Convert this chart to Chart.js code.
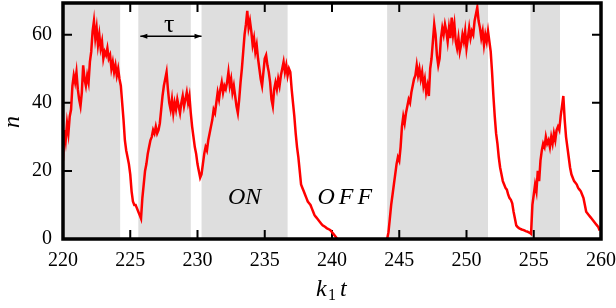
<!DOCTYPE html>
<html>
<head>
<meta charset="utf-8">
<script src="https://cdn.jsdelivr.net/npm/chart.js@4/dist/chart.umd.min.js"></script>
<style>
  html, body { margin: 0; padding: 0; background: #fff; }
  #wrap { width: 616px; height: 308px; position: relative; }
</style>
</head>
<body>
<div id="wrap"><canvas id="chart"></canvas></div>
<script>
const SERIF = "'Liberation Serif', 'DejaVu Serif', serif";
const LINE_COLOR = '#ff0000';
const BAND_COLOR = '#dedede';

// sampling of the trajectory, k1 t from 220 in steps of 0.1
const T0 = 220;
const DT = 0.1;

// copy number n, one array per 5 time units
const n220 = [23, 32, 29, 34, 31, 36, 38, 45, 48, 46, 49, 44, 41, 39, 43, 51, 47, 45, 48, 46,
  52, 55, 61, 64, 59, 62, 57, 60, 56, 58, 53, 55, 54, 56, 53, 54, 50, 52, 49, 51,
  48, 50, 47, 45, 40, 35, 29, 26, 24, 22];
const n225 = [19, 14, 11, 10, 10, 9, 8, 7, 6, 12, 16, 20, 22, 25, 27, 29, 30, 32, 31, 33,
  31, 32, 34, 38, 42, 45, 47, 49, 44, 40, 38, 41, 37, 40, 38, 41, 39, 37, 40, 42,
  39, 41, 43, 40, 42, 37, 33, 30, 27, 25];
const n230 = [22, 20, 18, 19, 22, 25, 27, 26, 29, 31, 33, 35, 38, 37, 40, 43, 41, 44, 46, 43,
  45, 44, 46, 49, 45, 47, 43, 45, 42, 39, 37, 41, 46, 50, 55, 60, 63, 67, 62, 64,
  61, 57, 59, 55, 57, 53, 50, 47, 45, 49];
const n235 = [53, 54, 51, 49, 46, 41, 39, 44, 46, 44, 47, 45, 48, 50, 52, 49, 51, 48, 50, 49,
  44, 40, 36, 31, 27, 24, 20, 16, 15, 14, 13, 12, 11, 10.5, 10, 9, 8, 7, 6.5, 6,
  5.5, 5, 4.5, 4, 3.8, 3.5, 3.2, 3, 2.8, 2.5];
const n240 = [2, 1.5, 1, 0.5, 0,
  null, null, null, null, null, null, null, null, null, null, null, null,
  null, null, null, null, null, null, null, null, null, null, null, null,
  null, null, null, null, null, null, null, null, null, null, null, null,
  0, 2, 6, 10, 13, 16, 19, 22, 24];
const n245 = [23, 27, 33, 36, 34, 37, 39, 41, 40, 43, 45, 47, 48, 51, 48, 50, 47, 49, 45, 47,
  43, 45, 42, 50, 53, 58, 63, 60, 54, 51, 53, 59, 62, 60, 63, 61, 58, 62, 59, 65,
  60, 63, 58, 56, 59, 55, 57, 60, 58, 61];
const n250 = [56, 59, 62, 59, 61, 60, 64, 66, 68, 64, 62, 59, 61, 57, 60, 58, 61, 58, 55, 49,
  42, 36, 31, 28, 24, 21, 19, 17, 16, 15, 14.5, 13, 12, 11.5, 10.5, 8, 6, 4, 3.5, 3.2,
  3, 2.8, 2.7, 2.5, 2.3, 2.2, 2, 1.8, 1.5, 10];
const n255 = [13, 16, 14, 20, 17, 23, 26, 28, 27, 30, 28, 29, 27, 30, 28, 31, 29, 32, 33, 32,
  36, 39, 42, 35, 30, 27, 24, 21, 19, 18, 17, 16.5, 16, 15, 14.5, 14, 13, 12, 10, 8,
  7.5, 7, 6.5, 6, 5.5, 5, 4.5, 4, 3.5, 2.5];

// ON periods (shaded)
const onStart = [220, 225.6, 230.3, 244.1, 254.75];
const onEnd = [224.25, 229.5, 236.7, 251.6, 256.95];

const xTicks = [220, 225, 230, 235, 240, 245, 250, 255, 260];
const yTicks = [0, 20, 40, 60];

const counts = [].concat(n220, n225, n230, n235, n240, n245, n250, n255);
const points = counts.map((v, i) => ({ x: Math.round((T0 + i * DT) * 10) / 10, y: v }));

const decor = {
  id: 'decor',
  beforeDatasetsDraw(chart) {
    const { ctx, chartArea: a, scales: { x, y } } = chart;
    ctx.save();
    ctx.fillStyle = BAND_COLOR;
    onStart.forEach((s, i) => {
      const x0 = x.getPixelForValue(s);
      const x1 = x.getPixelForValue(onEnd[i]);
      ctx.fillRect(x0, a.top, x1 - x0, a.bottom - a.top);
    });
    // inward tick marks on all four sides
    ctx.strokeStyle = '#000';
    ctx.lineWidth = 2;
    ctx.beginPath();
    xTicks.forEach((t) => {
      const px = x.getPixelForValue(t);
      ctx.moveTo(px, a.bottom); ctx.lineTo(px, a.bottom - 9);
      ctx.moveTo(px, a.top); ctx.lineTo(px, a.top + 9);
    });
    yTicks.forEach((t) => {
      const py = y.getPixelForValue(t);
      ctx.moveTo(a.left, py); ctx.lineTo(a.left + 9, py);
      ctx.moveTo(a.right, py); ctx.lineTo(a.right - 9, py);
    });
    ctx.stroke();
    ctx.restore();
  },
  afterDatasetsDraw(chart) {
    const { ctx, chartArea: a, scales: { x, y } } = chart;
    ctx.save();
    ctx.strokeStyle = '#000';
    ctx.lineWidth = 3.5;
    ctx.strokeRect(a.left, a.top, a.right - a.left, a.bottom - a.top);

    // tau arrow
    const ax0 = x.getPixelForValue(225.75);
    const ax1 = x.getPixelForValue(230.3);
    const ay = y.getPixelForValue(59.5);
    ctx.lineWidth = 1.5;
    ctx.beginPath();
    ctx.moveTo(ax0, ay); ctx.lineTo(ax1, ay);
    ctx.stroke();
    ctx.fillStyle = '#000';
    ctx.beginPath();
    ctx.moveTo(ax0, ay); ctx.lineTo(ax0 + 7, ay - 2.5); ctx.lineTo(ax0 + 7, ay + 2.5); ctx.closePath();
    ctx.moveTo(ax1, ay); ctx.lineTo(ax1 - 7, ay - 2.5); ctx.lineTo(ax1 - 7, ay + 2.5); ctx.closePath();
    ctx.fill();

    ctx.textAlign = 'center';
    ctx.textBaseline = 'middle';
    ctx.font = `26px ${SERIF}`;
    ctx.fillText('τ', x.getPixelForValue(227.9), y.getPixelForValue(62.8));

    ctx.font = `italic 24px ${SERIF}`;
    ctx.fillText('ON', x.getPixelForValue(233.5), y.getPixelForValue(12));
    ctx.letterSpacing = '4px';
    ctx.fillText('OFF', x.getPixelForValue(241.1), y.getPixelForValue(12));
    ctx.letterSpacing = '0px';

    // axis titles
    ctx.save();
    ctx.translate(13, 122);
    ctx.rotate(-Math.PI / 2);
    ctx.fillText('n', 0, 0);
    ctx.restore();

    ctx.textAlign = 'left';
    ctx.fillText('k', 316, 290);
    ctx.font = `16px ${SERIF}`;
    ctx.fillText('1', 328, 296);
    ctx.font = `italic 24px ${SERIF}`;
    ctx.fillText('t', 340, 290);
    ctx.restore();
  },
};

new Chart(document.getElementById('chart'), {
  type: 'line',
  data: {
    datasets: [{
      data: points,
      borderColor: LINE_COLOR,
      borderWidth: 2.5,
      pointRadius: 0,
      tension: 0,
      spanGaps: false,
    }],
  },
  options: {
    responsive: true,
    maintainAspectRatio: false,
    animation: false,
    layout: { padding: { top: 3, right: 15, left: 0, bottom: 0 } },
    plugins: { legend: { display: false }, tooltip: { enabled: false } },
    scales: {
      x: {
        type: 'linear',
        min: 220,
        max: 260,
        grid: { display: false, drawTicks: false },
        border: { display: false },
        afterBuildTicks: (s) => { s.ticks = xTicks.map((v) => ({ value: v })); },
        afterFit: (s) => { s.height = 69; s.paddingLeft = 0; s.paddingRight = 0; },
        ticks: { color: '#000', padding: 10, maxRotation: 0, font: { family: SERIF, size: 20 } },
      },
      y: {
        min: 0,
        max: 69.3,
        grid: { display: false, drawTicks: false },
        border: { display: false },
        afterBuildTicks: (s) => { s.ticks = yTicks.map((v) => ({ value: v })); },
        afterFit: (s) => { s.width = 63; s.paddingTop = 0; s.paddingBottom = 0; },
        ticks: { color: '#000', padding: 11, font: { family: SERIF, size: 20 } },
      },
    },
  },
  plugins: [decor],
});
</script>
</body>
</html>
